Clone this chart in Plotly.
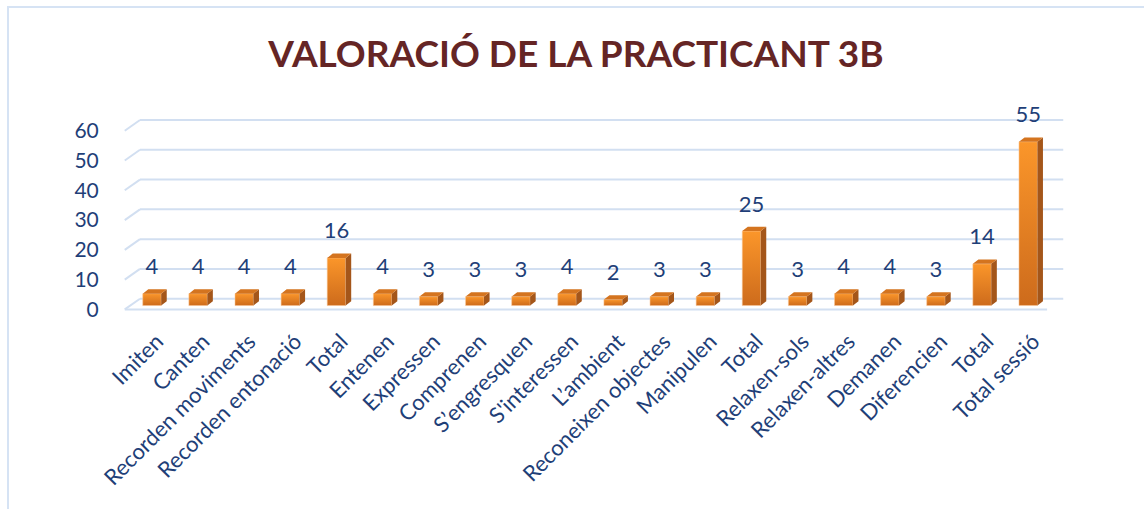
import plotly.graph_objects as go

categories = ["Imiten", "Canten", "Recorden moviments", "Recorden entonació", "Total",
              "Entenen", "Expressen", "Comprenen", "S’engresquen", "S'interessen",
              "L’ambient", "Reconeixen objectes", "Manipulen", "Total", "Relaxen-sols",
              "Relaxen-altres", "Demanen", "Diferencien", "Total", "Total sessió"]
values = [4, 4, 4, 4, 16, 4, 3, 3, 3, 4, 2, 3, 3, 25, 3, 4, 4, 3, 14, 55]
y_ticks = [0, 10, 20, 30, 40, 50, 60]
title_text = "VALORACIÓ DE LA PRACTICANT 3B"

FONT = "Lato"
TXT = "#1F3F78"
GRID = "#D2DFF1"

hw = 0.2      # half width of bar front face (category units)
dx = 0.12     # 3D depth offset (x)
dy = 1.45     # 3D depth offset (value units)

xs = list(range(len(categories)))
fig = go.Figure()

# front faces with vertical gradient
for i, v in zip(xs, values):
    fig.add_trace(go.Scatter(
        x=[i - hw, i + hw, i + hw, i - hw, i - hw],
        y=[0, 0, v, v, 0],
        mode="lines", fill="toself",
        line=dict(width=0.6, color="rgba(252,200,150,0.9)"),
        fillgradient=dict(type="vertical",
                          colorscale=[[0, "#CD6B1C"], [1, "#FB962A"]]),
        hoverinfo="skip", showlegend=False))

# side faces
sx, sy = [], []
for i, v in zip(xs, values):
    sx += [i + hw, i + hw + dx, i + hw + dx, i + hw, i + hw, None]
    sy += [0, dy, v + dy, v, 0, None]
fig.add_trace(go.Scatter(x=sx, y=sy, mode="lines", fill="toself",
                         line=dict(width=0), fillcolor="#A4561A",
                         hoverinfo="skip", showlegend=False))

# top faces
tx, ty = [], []
for i, v in zip(xs, values):
    tx += [i - hw, i + hw, i + hw + dx, i - hw + dx, i - hw, None]
    ty += [v, v, v + dy, v + dy, v, None]
fig.add_trace(go.Scatter(x=tx, y=ty, mode="lines", fill="toself",
                         line=dict(width=0), fillcolor="#D4741F",
                         hoverinfo="skip", showlegend=False))

# value labels
fig.add_trace(go.Scatter(x=xs, y=[v + 8.4 for v in values], mode="text",
                         text=[str(v) for v in values],
                         textposition="middle center",
                         textfont=dict(family=FONT, size=22, color=TXT),
                         cliponaxis=False, hoverinfo="skip", showlegend=False))

# 3D walls gridlines (back wall lines + slanted side segments)
front_off, back_off = -1.3, 2.3
x_front_l, x_back_l = -0.59, -0.26
x_front_r, x_back_r = 19.41, 19.76
shapes = []
for k in y_ticks:
    shapes.append(dict(type="line", xref="x", yref="y", layer="below",
                       x0=x_back_l, x1=x_back_r, y0=k + back_off, y1=k + back_off,
                       line=dict(color=GRID, width=2)))
    shapes.append(dict(type="line", xref="x", yref="y", layer="below",
                       x0=x_front_l, x1=x_back_l, y0=k + front_off, y1=k + back_off,
                       line=dict(color=GRID, width=2)))
shapes.append(dict(type="line", xref="x", yref="y", layer="below",
                   x0=x_front_l, x1=x_front_r, y0=front_off, y1=front_off,
                   line=dict(color=GRID, width=2)))
# chart area border
shapes.append(dict(type="rect", xref="paper", yref="paper",
                   x0=-0.12, x1=1.2, y0=-1.2, y1=1.5,
                   line=dict(color="#D6E3F4", width=2)))

yr = [-2.5, 66]
fig.update_layout(
    width=1144, height=509,
    margin=dict(l=122, r=72, t=109, b=196),
    paper_bgcolor="white", plot_bgcolor="white",
    shapes=shapes,
    title=dict(text="<b>" + title_text + "</b>", x=576 / 1144, xref="container",
               xanchor="center",
               y=1 - 54 / 509, yref="container", yanchor="middle",
               font=dict(family=FONT, size=37, color="#652525")),
    xaxis=dict(range=[-0.65, 19.95], tickvals=xs, ticktext=categories,
               tickangle=-45, showgrid=False, zeroline=False, showline=False,
               ticks="outside", ticklen=6, tickcolor="rgba(0,0,0,0)",
               ticklabelshift=5,
               tickfont=dict(family=FONT, size=22, color=TXT)),
    yaxis=dict(range=yr, showgrid=False, zeroline=False, showline=False,
               tickvals=[k + front_off for k in y_ticks],
               ticktext=[str(k) for k in y_ticks],
               ticks="outside", ticklen=18, tickcolor="rgba(0,0,0,0)",
               tickfont=dict(family=FONT, size=21, color=TXT)),
)

fig.write_html("out.html", config={"displayModeBar": False},
               post_script="document.body.style.margin='0';")
